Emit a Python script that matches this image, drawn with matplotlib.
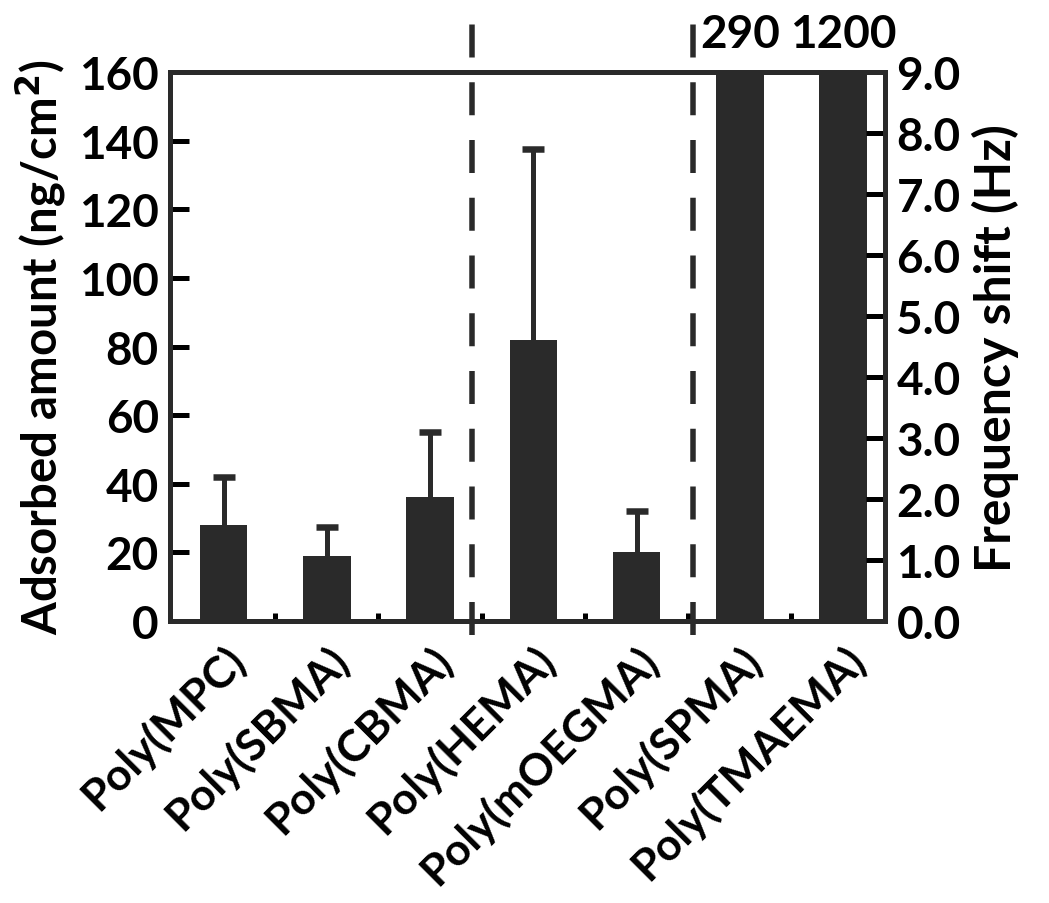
import numpy as np
import matplotlib.pyplot as plt

plt.rcParams['font.family'] = ['Lato', 'DejaVu Sans']
plt.rcParams['font.weight'] = 'bold'

polymers = ["Poly(MPC)", "Poly(SBMA)", "Poly(CBMA)", "Poly(HEMA)",
            "Poly(mOEGMA)", "Poly(SPMA)", "Poly(TMAEMA)"]
adsorbed = [28, 19, 36, 82, 20, 290, 1200]  # ng/cm2
err_up = [14, 8.5, 19, 55.5, 12, 0, 0]
off_scale = {5: "290", 6: "1200"}
dash_pos = [2.41, 4.55]

bar_col = "#2a2a2a"
lw = 3.6

fig = plt.figure(figsize=(10.49, 9.04), dpi=100)
ax = fig.add_axes([0.162, 0.312, 0.682, 0.607])
x = np.arange(len(polymers))

ax.bar(x, adsorbed, width=0.46, color=bar_col, zorder=2)
# upper error bars only
for xi, v, e in zip(x, adsorbed, err_up):
    if e > 0:
        ax.vlines(xi, v, v + e, color=bar_col, lw=lw, zorder=1)
        ax.plot(xi, v + e, marker="_", ms=16, mew=lw * 1.3, color=bar_col, zorder=1)

ax.set_xlim(-0.52, 6.41)
ax.set_ylim(0, 160)
ax.set_yticks(np.arange(0, 161, 20))
ax.set_xticks(x)
ax.set_xticklabels(polymers, rotation=45, ha="right", rotation_mode="anchor")
ax.set_xticks(x[:-1] + 0.5, minor=True)
ax.tick_params(axis="x", which="major", length=0, pad=12, labelsize=32)
ax.tick_params(axis="x", which="minor", direction="in", length=6, width=lw)
ax.tick_params(axis="y", direction="in", length=14, width=lw, labelsize=33, pad=8)
ax.set_ylabel("Adsorbed amount (ng/cm$^\\mathbf{2}$)", fontsize=34,
              fontweight="bold", labelpad=8)

for s in ax.spines.values():
    s.set_linewidth(lw)
    s.set_color(bar_col)

for xp in dash_pos:
    ax.axvline(xp, ymin=-0.025, ymax=1.135, color=bar_col, lw=lw * 1.1,
               ls=(0, (6, 4.5)), clip_on=False, zorder=3)

for i, txt in off_scale.items():
    ax.text(x[i], 171, txt, ha="center", va="center", fontsize=33)

ax2 = ax.twinx()
ax2.set_ylim(0, 9)
ax2.set_yticks(np.arange(0, 9.1, 1))
ax2.set_yticklabels([f"{v:.1f}" for v in np.arange(0, 9.1, 1)])
ax2.tick_params(axis="y", direction="in", length=14, width=lw, labelsize=33, pad=8)
ax2.set_ylabel("Frequency shift (Hz)", fontsize=36, fontweight="bold", labelpad=8)
for s in ax2.spines.values():
    s.set_linewidth(lw)
    s.set_color(bar_col)

fig.savefig("out.png", dpi=100)
